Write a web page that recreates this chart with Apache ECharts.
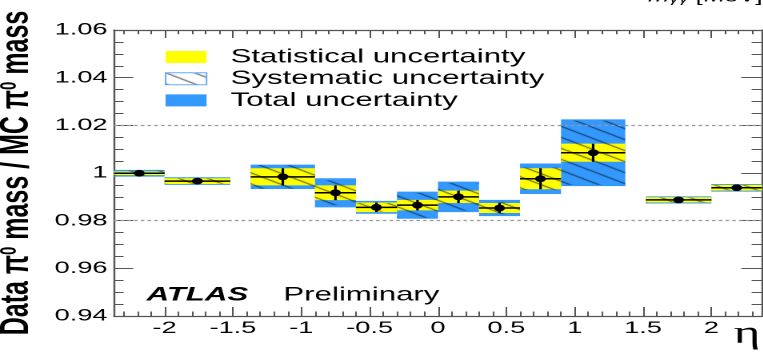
<!DOCTYPE html>
<html><head><meta charset="utf-8">
<script src="https://cdn.jsdelivr.net/npm/echarts@6/dist/echarts.min.js"></script>
<style>
html,body{margin:0;padding:0;overflow:hidden;background:#fff}
#wrap{width:763px;height:360px;overflow:hidden;position:relative}
#chart{width:477px;height:360px;transform:scaleX(1.6);transform-origin:0 0}
</style></head>
<body><div id="wrap"><div id="chart"></div></div>
<script>
// ---- data ----
const etaLow  = [-2.37, -2.0, -1.37, -0.9, -0.6, -0.3, 0.0, 0.3, 0.6, 0.9, 1.52, 2.0];
const etaHigh = [-2.0, -1.52, -0.9, -0.6, -0.3, 0.0, 0.3, 0.6, 0.9, 1.37, 2.0, 2.37];
const massRatio = [0.9999, 0.9966, 0.9984, 0.9917, 0.9856, 0.9865, 0.9900, 0.9853, 0.9976, 1.0085, 0.9887, 0.9938];
const statErr = [0.0008, 0.0012, 0.0036, 0.0031, 0.0020, 0.0022, 0.0026, 0.0021, 0.0044, 0.0038, 0.0011, 0.0012];
const sysErr  = [0.0011, 0.0011, 0.0049, 0.0052, 0.0018, 0.0052, 0.0058, 0.0026, 0.0047, 0.0135, 0.0010, 0.0011];
const totErr  = [0.0014, 0.0016, 0.0051, 0.0061, 0.0027, 0.0057, 0.0064, 0.0034, 0.0064, 0.0140, 0.0015, 0.0016];
const xTickValues = [-2, -1.5, -1, -0.5, 0, 0.5, 1, 1.5, 2];
const xTickLabels = ['-2', '-1.5', '-1', '-0.5', '0', '0.5', '1', '1.5', '2'];
const yTickValues = [0.94, 0.96, 0.98, 1.00, 1.02, 1.04, 1.06];
const yTickLabels = ['0.94', '0.96', '0.98', '1', '1.02', '1.04', '1.06'];
const refLines = [0.98, 1.02];
const seriesNames = ['Statistical uncertainty', 'Systematic uncertainty', 'Total uncertainty'];

// minor tick positions
const xMinor = []; for (let k = -23; k <= 23; k++) if (k % 5 !== 0) xMinor.push(k / 10);
const yMinor = []; for (let k = 188; k <= 212; k++) if (k % 4 !== 0) yMinor.push(+(k * 0.005).toFixed(3));

const FONT = "'Liberation Sans', Arial, Helvetica, sans-serif";
const AX = '#555';

function makeHatch(bg) {
  const W = 18, H = 11;
  const c = document.createElement('canvas'); c.width = W; c.height = H;
  const g = c.getContext('2d');
  if (bg) { g.fillStyle = bg; g.fillRect(0, 0, W, H); }
  g.strokeStyle = 'rgba(0,0,0,0.85)'; g.lineWidth = 0.9;
  for (let k = -1; k <= 1; k++) {
    g.beginPath(); g.moveTo(-W, -H + k * H); g.lineTo(2 * W, 2 * H + k * H); g.stroke();
  }
  return c;
}
const hatchPlot = { image: makeHatch(null), repeat: 'repeat' };
const hatchLegend = { image: makeHatch('#ffffff'), repeat: 'repeat' };

function rows(err) { return etaLow.map((lo, i) => [lo, etaHigh[i], massRatio[i], err[i]]); }

function boxRender(fill) {
  return function (params, api) {
    const lo = api.value(0), hi = api.value(1), v = api.value(2), e = api.value(3);
    const p1 = api.coord([lo, v + e]), p2 = api.coord([hi, v - e]);
    return { type: 'rect', shape: { x: p1[0], y: p1[1], width: p2[0] - p1[0], height: p2[1] - p1[1] },
             style: { fill: fill, stroke: null } };
  };
}
function pointRender(params, api) {
  const lo = api.value(0), hi = api.value(1), v = api.value(2), s = api.value(3);
  const c = (lo + hi) / 2;
  const a = api.coord([lo, v]), b = api.coord([hi, v]);
  const t = api.coord([c, v + s]), d = api.coord([c, v - s]), m = api.coord([c, v]);
  return { type: 'group', children: [
    { type: 'line', shape: { x1: a[0], y1: a[1], x2: b[0], y2: b[1] }, style: { stroke: '#000', lineWidth: 1.5 } },
    { type: 'line', shape: { x1: t[0], y1: t[1], x2: d[0], y2: d[1] }, style: { stroke: '#000', lineWidth: 1.6 } },
    { type: 'circle', shape: { cx: m[0], cy: m[1], r: 3.4 }, style: { fill: '#000' } }
  ]};
}

const chart = echarts.init(document.getElementById('chart'), null, { renderer: 'canvas', devicePixelRatio: 2 });

const xBase = { type: 'value', min: -2.37, max: 2.37, splitLine: { show: false } };
const yBase = { type: 'value', min: 0.94, max: 1.06, splitLine: { show: false } };

chart.setOption({
  animation: false,
  backgroundColor: '#fff',
  grid: { left: 71.25, right: 0.75, top: 30, bottom: 44, containLabel: false, outerBoundsMode: 'none' },
  title: [
    { left: 91.6, top: 285, padding: 0,
      text: '{a|ATLAS}{b|Preliminary}',
      textStyle: { fontWeight: 'normal', rich: {
        a: { fontFamily: FONT, fontSize: 19.5, fontWeight: 'bold', fontStyle: 'italic', color: '#000' },
        b: { fontFamily: FONT, fontSize: 19.5, fontWeight: 'normal', color: '#000', padding: [0, 0, 0, 22] } } } },
    { left: 405, top: -11, padding: 0,
      text: '{m|m}{s|γγ} [MeV]',
      textStyle: { fontFamily: FONT, fontSize: 16, fontWeight: 'normal', color: '#000', rich: {
        m: { fontFamily: FONT, fontSize: 16, fontStyle: 'italic', fontWeight: 'normal', color: '#000' },
        s: { fontFamily: FONT, fontSize: 12, fontStyle: 'italic', fontWeight: 'normal', color: '#000', verticalAlign: 'bottom' } } } }
  ],
  legend: {
    orient: 'vertical', left: 103, top: 47, padding: 0, itemGap: 1.7,
    itemWidth: 25.6, itemHeight: 12, selectedMode: false,
    textStyle: { fontFamily: FONT, fontSize: 19.5, color: '#000', lineHeight: 20, padding: [0, 0, 0, 10] },
    data: [
      { name: seriesNames[0], icon: 'rect', itemStyle: { color: '#ffff00', borderWidth: 0 } },
      { name: seriesNames[1], icon: 'rect', itemStyle: { color: hatchLegend, borderColor: '#66aaff', borderWidth: 1 } },
      { name: seriesNames[2], icon: 'rect', itemStyle: { color: '#3399ff', borderWidth: 0 } }
    ]
  },
  xAxis: [
    Object.assign({}, xBase, { position: 'bottom',
      name: 'η', nameLocation: 'end', nameGap: -1,
      nameTextStyle: { fontFamily: "'Liberation Serif', 'DejaVu Serif', serif", fontSize: 32, color: '#000',
                       align: 'right', verticalAlign: 'top', padding: [2, 0, 0, 0] },
      axisLine: { show: true, onZero: false, lineStyle: { color: AX, width: 1.2 } },
      axisTick: { show: true, inside: true, length: 9, customValues: xTickValues, lineStyle: { color: AX } },
      axisLabel: { show: true, customValues: xTickValues, margin: 4, fontFamily: FONT, fontSize: 17, color: '#000',
                   formatter: v => xTickLabels[xTickValues.findIndex(t => Math.abs(t - v) < 1e-6)] } }),
    Object.assign({}, xBase, { position: 'bottom',
      axisLine: { show: false, onZero: false },
      axisTick: { show: true, inside: true, length: 4.5, customValues: xMinor, lineStyle: { color: AX } },
      axisLabel: { show: false } }),
    Object.assign({}, xBase, { position: 'top',
      axisLine: { show: true, onZero: false, lineStyle: { color: AX, width: 1.2 } },
      axisTick: { show: true, inside: true, length: 8, customValues: xTickValues, lineStyle: { color: AX } },
      axisLabel: { show: false } }),
    Object.assign({}, xBase, { position: 'top',
      axisLine: { show: false, onZero: false },
      axisTick: { show: true, inside: true, length: 4.3, customValues: xMinor, lineStyle: { color: AX } },
      axisLabel: { show: false } })
  ],
  yAxis: [
    Object.assign({}, yBase, { position: 'left',
      name: 'Data {p|π}{s|0} mass / MC {p|π}{s|0} mass', nameLocation: 'middle', nameGap: 47, nameRotate: 90,
      nameTextStyle: { fontFamily: FONT, fontSize: 25, fontWeight: 'bold', color: '#000', rich: {
        p: { fontFamily: FONT, fontSize: 25, fontWeight: 'bold', color: '#000' },
        s: { fontFamily: FONT, fontSize: 15, fontWeight: 'bold', color: '#000', verticalAlign: 'top' } } },
      axisLine: { show: true, onZero: false, lineStyle: { color: AX, width: 1.2 } },
      axisTick: { show: true, inside: true, length: 12, customValues: yTickValues, lineStyle: { color: AX } },
      axisLabel: { show: true, customValues: yTickValues, margin: 4, fontFamily: FONT, fontSize: 17, color: '#000',
                   formatter: v => yTickLabels[yTickValues.findIndex(t => Math.abs(t - v) < 1e-6)] } }),
    Object.assign({}, yBase, { position: 'left',
      axisLine: { show: false, onZero: false },
      axisTick: { show: true, inside: true, length: 6, customValues: yMinor, lineStyle: { color: AX } },
      axisLabel: { show: false } }),
    Object.assign({}, yBase, { position: 'right',
      axisLine: { show: true, onZero: false, lineStyle: { color: AX, width: 1.2 } },
      axisTick: { show: true, inside: true, length: 13, customValues: yTickValues, lineStyle: { color: AX } },
      axisLabel: { show: false } }),
    Object.assign({}, yBase, { position: 'right',
      axisLine: { show: false, onZero: false },
      axisTick: { show: true, inside: true, length: 6.5, customValues: yMinor, lineStyle: { color: AX } },
      axisLabel: { show: false } })
  ],
  series: [
    { type: 'line', name: 'ref', data: [], xAxisIndex: 0, yAxisIndex: 0, silent: true,
      markLine: { silent: true, symbol: ['none', 'none'], label: { show: false },
                  lineStyle: { color: '#999', type: [2.2, 2], width: 1.2 },
                  data: refLines.map(v => ({ yAxis: v })) } },
    { type: 'custom', name: seriesNames[2], xAxisIndex: 0, yAxisIndex: 0, itemStyle: { color: '#3399ff' },
      renderItem: boxRender('#3399ff'), data: rows(totErr), encode: { x: [0, 1], y: 2 } },
    { type: 'custom', name: seriesNames[0], xAxisIndex: 0, yAxisIndex: 0, itemStyle: { color: '#ffff00' },
      renderItem: boxRender('#ffff00'), data: rows(statErr), encode: { x: [0, 1], y: 2 } },
    { type: 'custom', name: seriesNames[1], xAxisIndex: 0, yAxisIndex: 0, itemStyle: { color: hatchLegend },
      renderItem: boxRender(hatchPlot), data: rows(sysErr), encode: { x: [0, 1], y: 2 } },
    { type: 'custom', name: 'data', xAxisIndex: 0, yAxisIndex: 0, itemStyle: { color: '#000' },
      renderItem: pointRender, data: rows(statErr), encode: { x: [0, 1], y: 2 } }
  ]
});
</script>
</body></html>
